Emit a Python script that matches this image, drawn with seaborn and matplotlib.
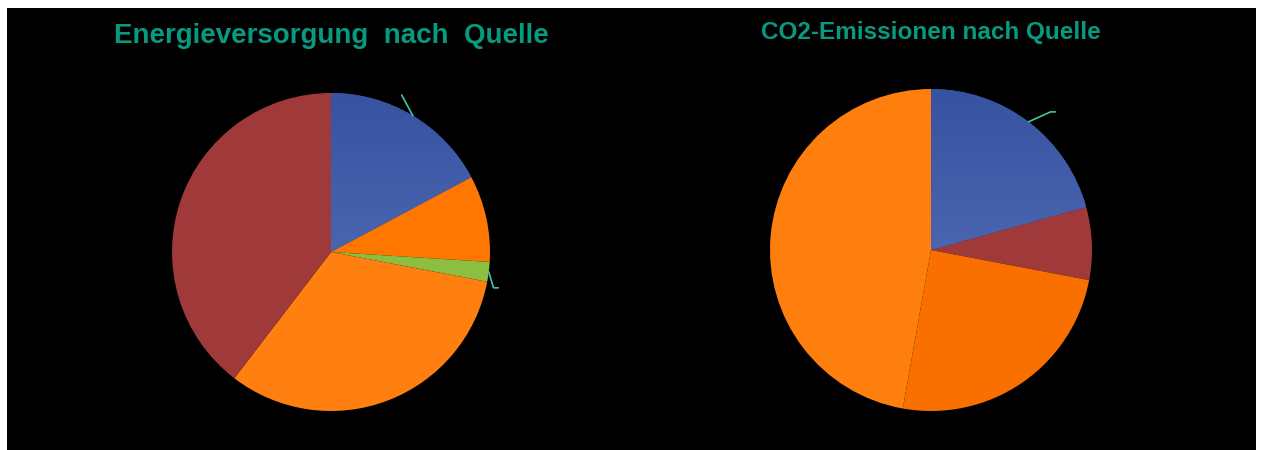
import numpy as np
import matplotlib
matplotlib.use("Agg")
import matplotlib.pyplot as plt
import seaborn as sns
from matplotlib.patches import Rectangle

# data (percent, clockwise from 12 o'clock)
energy_labels = ["Kernenergie", "Kohle", "Erneuerbare", "Erdgas", "Mineralöl"]
energy_share = [17.2, 8.8, 2.0, 32.4, 39.6]
energy_colors = ["#4A66AE", "#FF7700", "#8CBF3F", "#FF7F10", "#A0393A"]

co2_labels = ["Kohle", "Sonstige", "Erdgas", "Mineralöl"]
co2_share = [20.7, 7.3, 24.8, 47.2]
co2_colors = ["#4A66AE", "#A0393A", "#FA7000", "#FF7F0E"]

title_color = "#079A80"
leader_color = "#3FC6A8"

sns.set_theme(style="white")
plt.rcParams["font.family"] = ["Liberation Sans", "DejaVu Sans"]

W, H = 1261, 450
fig = plt.figure(figsize=(W / 100, H / 100), dpi=100, facecolor="white")
fig.patches.append(Rectangle((7 / W, 0), 1249 / W, 442 / H, transform=fig.transFigure,
                             facecolor="black", edgecolor="none", zorder=-1))


def blue_gradient(ax, wedge):
    grad = np.linspace(0, 1, 256).reshape(-1, 1)
    cmap = matplotlib.colors.LinearSegmentedColormap.from_list("b", ["#6079BD", "#3652A1"])
    im = ax.imshow(grad, extent=(-1, 1, 1, -1), cmap=cmap, aspect="auto", zorder=wedge.get_zorder() + 0.1)
    im.set_clip_path(wedge)


def leader(ax, wedge, offs):
    ang = np.deg2rad((wedge.theta1 + wedge.theta2) / 2)
    x, y = np.cos(ang), np.sin(ang)
    xs, ys = [x], [y]
    for dx, dy in offs:
        xs.append(xs[-1] + dx)
        ys.append(ys[-1] + dy)
    ax.plot(xs, ys, color=leader_color, lw=1.2, clip_on=False, zorder=5)


def make_pie(cx, cy, r, shares, colors):
    ax = fig.add_axes([(cx - r) / W, (H - cy - r) / H, 2 * r / W, 2 * r / H])
    wedges, _ = ax.pie(shares, colors=colors, startangle=90, counterclock=False,
                       radius=1, wedgeprops=dict(linewidth=0))
    ax.set_xlim(-1, 1)
    ax.set_ylim(-1, 1)
    ax.set_axis_off()
    return ax, wedges


ax1, w1 = make_pie(331, 252, 159, energy_share, energy_colors)
blue_gradient(ax1, w1[0])
leader(ax1, w1[0], [(-0.07, 0.13)])
leader(ax1, w1[2], [(0.03, -0.10), (0.03, 0)])

ax2, w2 = make_pie(931, 250, 161, co2_share, co2_colors)
blue_gradient(ax2, w2[0])
leader(ax2, w2[0], [(0.137, 0.062), (0.03, 0)])

fig.text(331 / W, 1 - 36 / H, "Energieversorgung  nach  Quelle", color=title_color,
         fontsize=20, fontweight="bold", ha="center", va="center")
fig.text(931 / W, 1 - 33 / H, "CO2-Emissionen nach Quelle", color=title_color,
         fontsize=17.5, fontweight="bold", ha="center", va="center")

fig.savefig("out.png", dpi=100, facecolor="white")
